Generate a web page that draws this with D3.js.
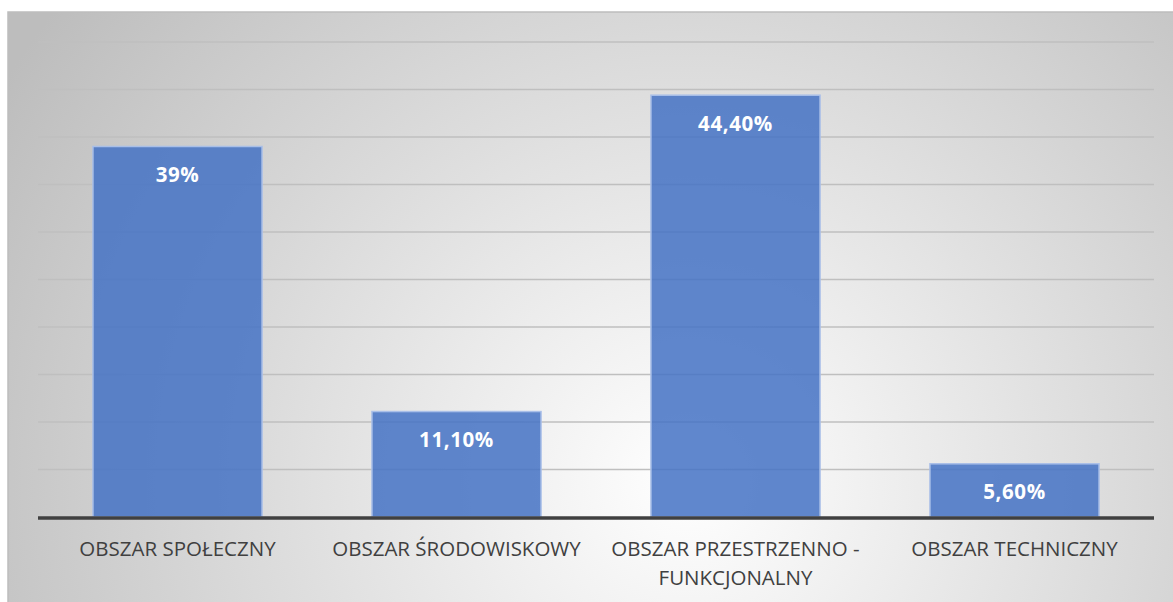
<!DOCTYPE html>
<meta charset="utf-8">
<style>
  body { margin: 0; background: #fff; }
  svg { display: block; }
</style>
<svg width="1173" height="602"></svg>
<script src="https://d3js.org/d3.v7.min.js"></script>
<script>

    // data
    var categories = [
        ["OBSZAR SPOŁECZNY"],
        ["OBSZAR ŚRODOWISKOWY"],
        ["OBSZAR PRZESTRZENNO -", "FUNKCJONALNY"],
        ["OBSZAR TECHNICZNY"]
    ];
    var values = [39, 11.1, 44.4, 5.6];
    var valueLabels = ["39%", "11,10%", "44,40%", "5,60%"];
    var gridTicks = d3.range(0, 55, 5);

    var svg = d3.select("svg"),
        width = +svg.attr("width"),
        height = +svg.attr("height");

    var margin = {left: 38, right: 19, top: 42, bottom: 85};

    // background
    var defs = svg.append("defs");
    var grad = defs.append("radialGradient")
        .attr("id", "bg")
        .attr("cx", 0.58).attr("cy", 0.78)
        .attr("r", 0.68)
        .attr("gradientTransform", "translate(0.58,0.78) scale(1,1.9) translate(-0.58,-0.78)");
    grad.append("stop").attr("offset", "0%").attr("stop-color", "#ffffff");
    grad.append("stop").attr("offset", "100%").attr("stop-color", "#bdbdbd");

    svg.append("rect")
        .attr("x", 8).attr("y", 12)
        .attr("width", width).attr("height", height)
        .attr("fill", "url(#bg)")
        .attr("stroke", "#bdbdbd")
        .attr("stroke-width", 1.5);

    var x = d3.scaleBand()
        .domain(d3.range(categories.length))
        .range([margin.left, width - margin.right])
        .paddingInner(0.394)
        .paddingOuter(0.197);

    var y = d3.scaleLinear()
        .domain([0, 50])
        .range([height - margin.bottom, margin.top]);

    // grid lines
    svg.append("g")
        .selectAll("line")
        .data(gridTicks.slice(1))
        .enter().append("line")
        .attr("x1", margin.left)
        .attr("x2", width - margin.right)
        .attr("y1", function(d) { return y(d); })
        .attr("y2", function(d) { return y(d); })
        .attr("stroke", "#bfbfbf")
        .attr("stroke-width", 1.5);

    // bars
    svg.append("g")
        .selectAll("rect")
        .data(values)
        .enter().append("rect")
        .attr("x", function(d, i) { return x(i); })
        .attr("y", function(d) { return y(d); })
        .attr("width", x.bandwidth())
        .attr("height", function(d) { return y(0) - y(d); })
        .attr("fill", "#4472C4")
        .attr("fill-opacity", 0.85)
        .attr("stroke", "#a9bfe8")
        .attr("stroke-width", 1.5);

    // value labels
    svg.append("g")
        .selectAll("text")
        .data(values)
        .enter().append("text")
        .attr("x", function(d, i) { return x(i) + x.bandwidth() / 2; })
        .attr("y", function(d) { return y(d) + 35.5; })
        .attr("text-anchor", "middle")
        .attr("font-family", "'Open Sans', sans-serif")
        .attr("font-weight", "bold")
        .attr("font-size", 20.5)
        .attr("letter-spacing", 0.6)
        .attr("fill", "#fff")
        .text(function(d, i) { return valueLabels[i]; });

    // baseline
    svg.append("line")
        .attr("x1", margin.left)
        .attr("x2", width - margin.right)
        .attr("y1", y(0) + 1)
        .attr("y2", y(0) + 1)
        .attr("stroke", "#404040")
        .attr("stroke-width", 3.5);

    // category labels
    var cat = svg.append("g")
        .selectAll("text")
        .data(categories)
        .enter().append("text")
        .attr("x", function(d, i) { return x(i) + x.bandwidth() / 2; })
        .attr("y", 556)
        .attr("text-anchor", "middle")
        .attr("font-family", "'Open Sans', sans-serif")
        .attr("font-size", 20.5)
        .attr("fill", "#404040");

    cat.selectAll("tspan")
        .data(function(d) { return d; })
        .enter().append("tspan")
        .attr("x", function() { return d3.select(this.parentNode).attr("x"); })
        .attr("dy", function(d, j) { return j === 0 ? 0 : 28.5; })
        .text(function(d) { return d; });

</script>
